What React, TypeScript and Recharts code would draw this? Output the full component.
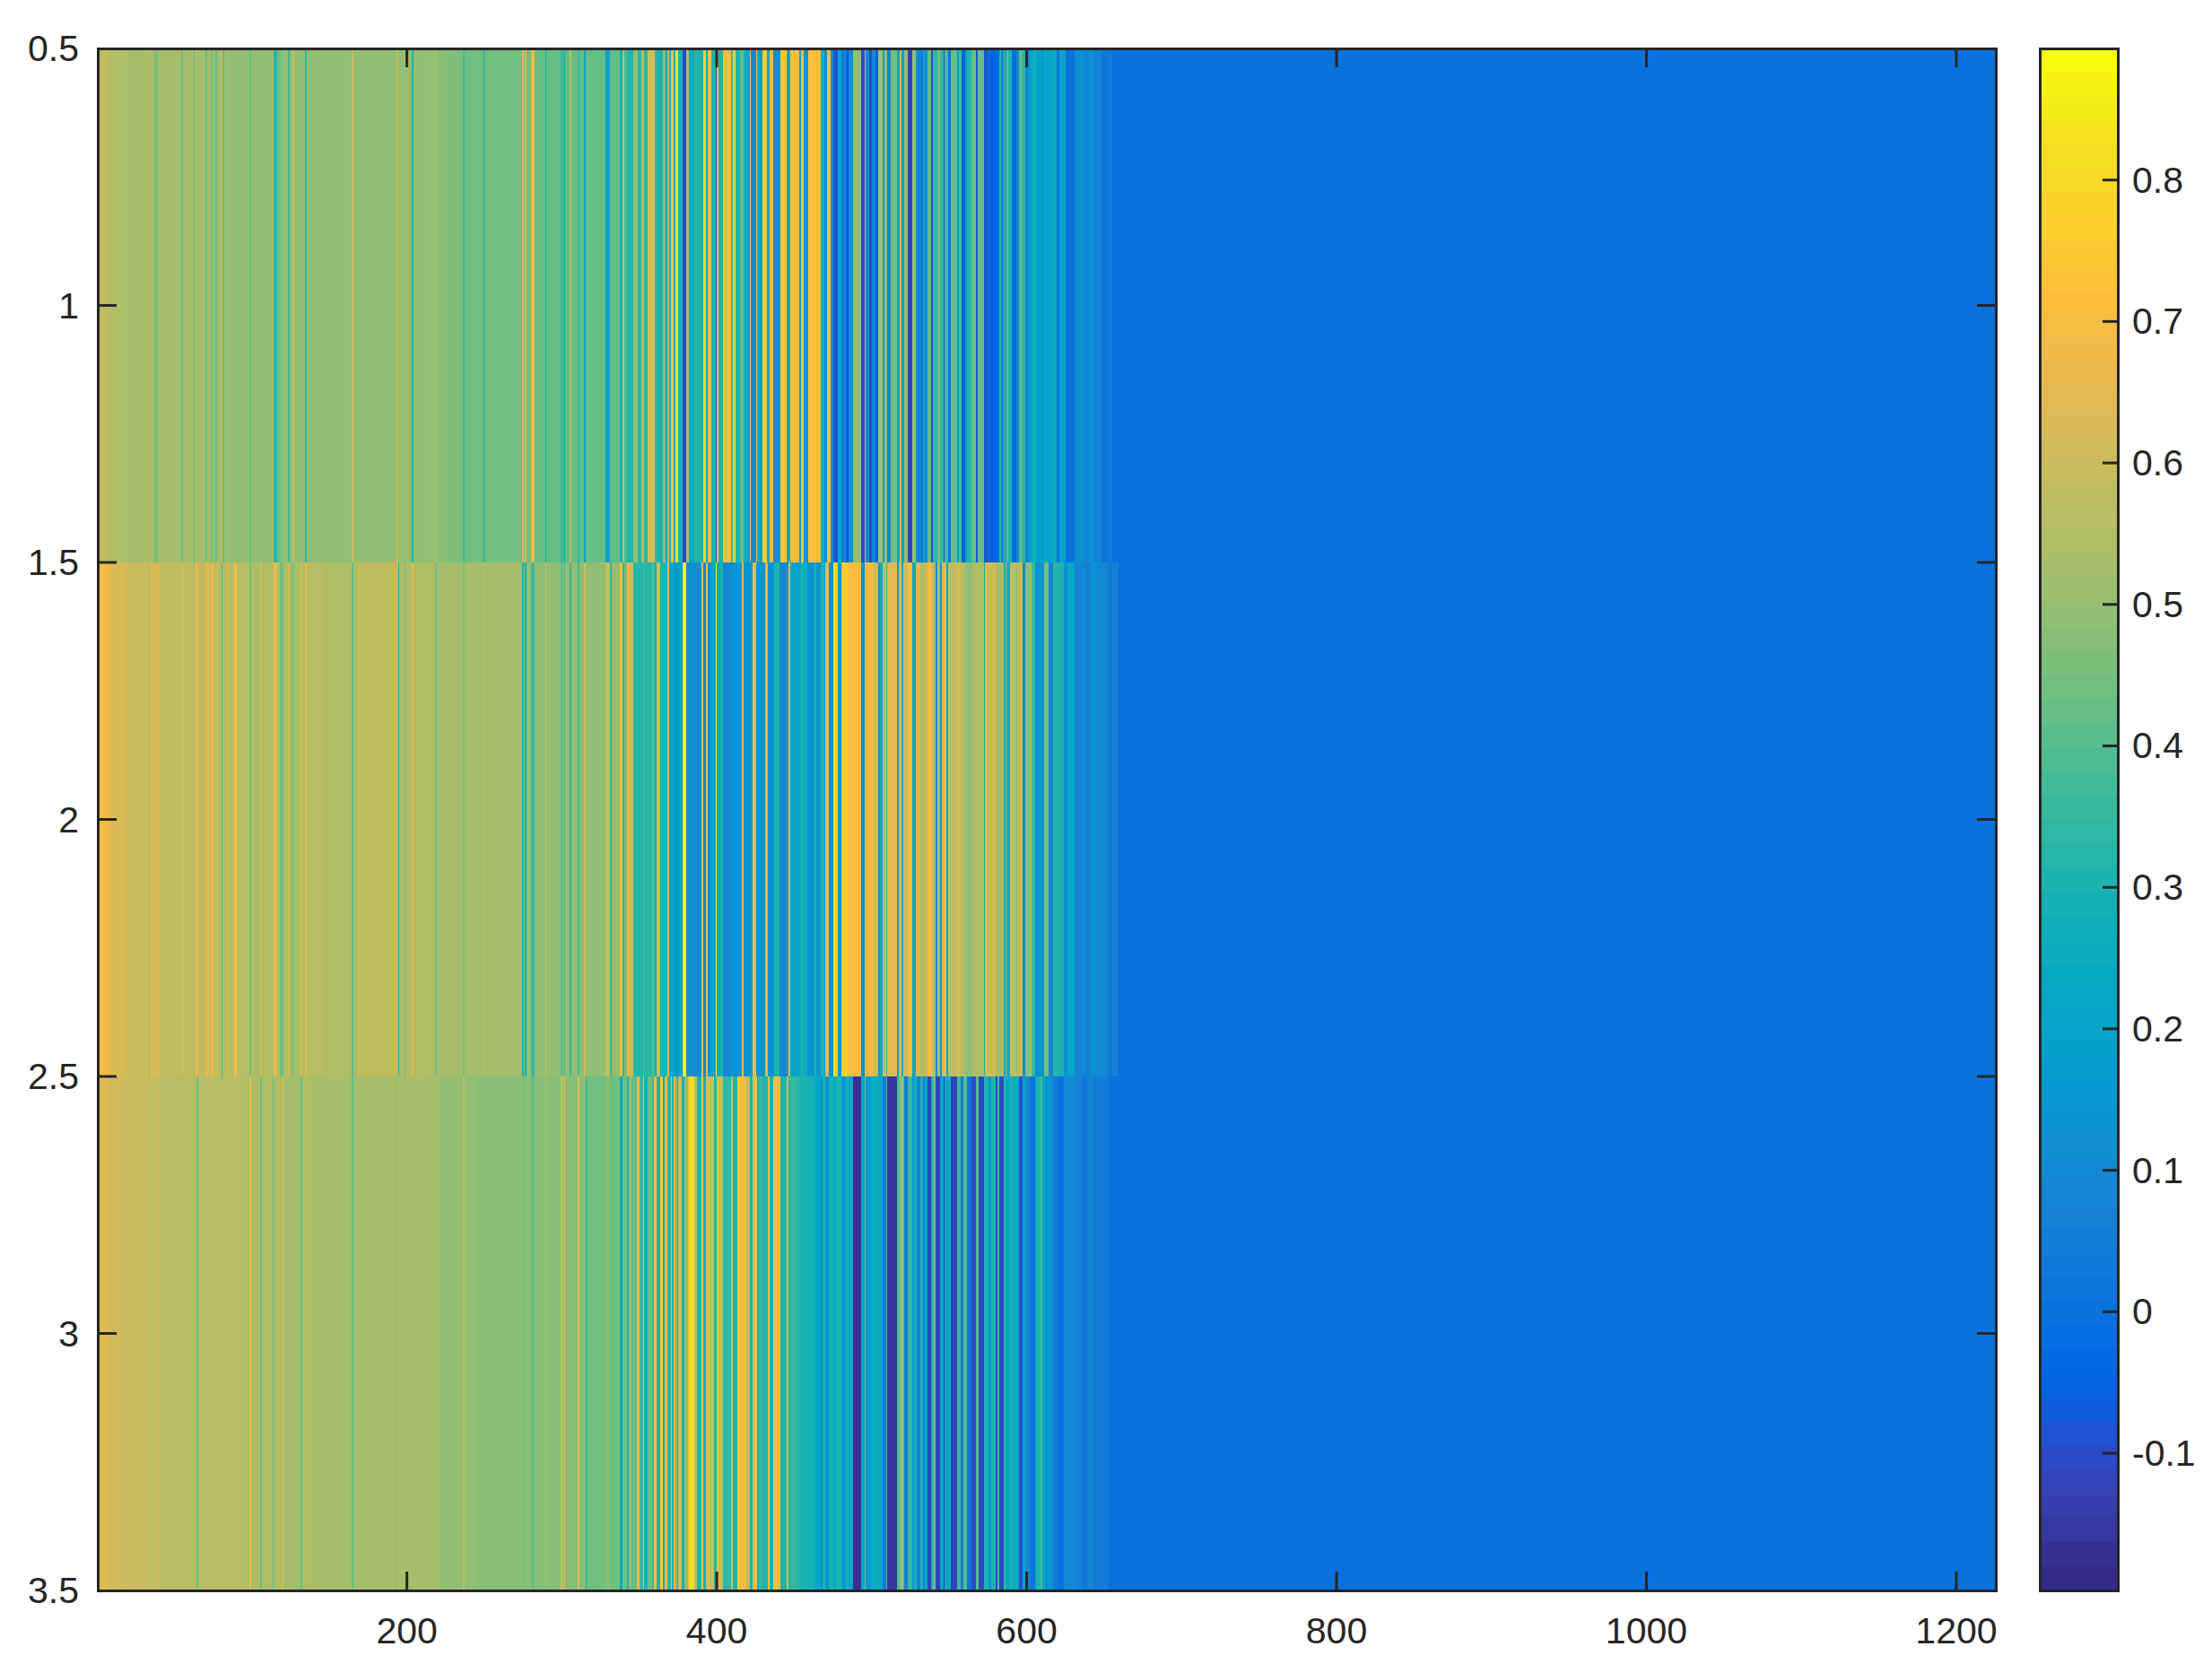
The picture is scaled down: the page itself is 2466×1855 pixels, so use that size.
import { Bar, Cell, ComposedChart, Line, ReferenceArea, XAxis, YAxis } from "recharts";

const PARULA = [
  [0.2081, 0.1663, 0.5292], [0.2116, 0.1898, 0.5777], [0.2123, 0.2138, 0.627], [0.2081, 0.2386, 0.6771],
  [0.1959, 0.2645, 0.7279], [0.1707, 0.2919, 0.7792], [0.1253, 0.3242, 0.8303], [0.0591, 0.3598, 0.8683],
  [0.0117, 0.3875, 0.882], [0.006, 0.4086, 0.8828], [0.0165, 0.4266, 0.8786], [0.0329, 0.443, 0.872],
  [0.0498, 0.4586, 0.8641], [0.0629, 0.4737, 0.8554], [0.0723, 0.4887, 0.8467], [0.0779, 0.504, 0.8384],
  [0.0793, 0.52, 0.8312], [0.0749, 0.5375, 0.8263], [0.0641, 0.557, 0.824], [0.0488, 0.5772, 0.8228],
  [0.0343, 0.5966, 0.8199], [0.0265, 0.6137, 0.8135], [0.0239, 0.6287, 0.8038], [0.0231, 0.6418, 0.7913],
  [0.0228, 0.6535, 0.7768], [0.0267, 0.6642, 0.7607], [0.0384, 0.6743, 0.7436], [0.059, 0.6838, 0.7254],
  [0.0843, 0.6928, 0.7062], [0.1133, 0.7015, 0.6859], [0.1453, 0.7098, 0.6646], [0.1801, 0.7177, 0.6424],
  [0.2178, 0.725, 0.6193], [0.2586, 0.7317, 0.5954], [0.3022, 0.7376, 0.5712], [0.3482, 0.7424, 0.5473],
  [0.3953, 0.7459, 0.5244], [0.442, 0.7481, 0.5033], [0.4871, 0.7491, 0.484], [0.53, 0.7491, 0.4661],
  [0.5709, 0.7485, 0.4494], [0.6099, 0.7473, 0.4337], [0.6473, 0.7456, 0.4188], [0.6834, 0.7435, 0.4044],
  [0.7184, 0.7411, 0.3905], [0.7525, 0.7384, 0.3768], [0.7858, 0.7356, 0.3633], [0.8185, 0.7327, 0.3498],
  [0.8507, 0.7299, 0.336], [0.8824, 0.7274, 0.3217], [0.9139, 0.7258, 0.3063], [0.945, 0.7261, 0.2886],
  [0.9739, 0.7314, 0.2666], [0.9938, 0.7455, 0.2403], [0.999, 0.7653, 0.2164], [0.9955, 0.7861, 0.1967],
  [0.988, 0.8066, 0.1794], [0.9789, 0.8271, 0.1633], [0.9697, 0.8481, 0.1475], [0.9626, 0.8705, 0.1309],
  [0.9589, 0.8949, 0.1132], [0.9598, 0.9218, 0.0948], [0.9661, 0.9514, 0.0755], [0.9763, 0.9831, 0.0538],
];

const C_MIN = -0.197;
const C_MAX = 0.893;
const N_COLS = 1225;

const X_TICKS = [200, 400, 600, 800, 1000, 1200];
const Y_TICKS = [0, 0.5, 1, 1.5, 2, 2.5, 3]; // row edges, shown as 0.5 .. 3.5
const C_TICKS = [-0.1, 0, 0.1, 0.2, 0.3, 0.4, 0.5, 0.6, 0.7, 0.8];

// each run is [last column, value]
const ROW1_RUNS = [
  [8,.57],[19,.54],[33,.53],[34,.6],[37,.52],[39,.46],[54,.52],[55,.44],[62,.52],[63,.4],[70,.52],[71,.42],[73,.52],[74,.4],[76,.5],[77,.42],[80,.52],[81,.66],[82,.4],[84,.5],[85,.58],[98,.5],[99,.42],[113,.5],[114,.58],[116,.32],[119,.44],[123,.49],[124,.36],[126,.49],[127,.6],[134,.49],[135,.34],[164,.5],[165,.62],[168,.5],
  [173,.49],[193,.49],[194,.6],[198,.49],[199,.55],[203,.49],[204,.3],[212,.5],[213,.52],[218,.49],[219,.55],[227,.48],[236,.46],[237,.38],[249,.45],[250,.26],[274,.44],[275,.65],[276,.45],[277,.62],[280,.44],[282,.68],[289,.42],[290,.25],[299,.42],[300,.36],[301,.42],[302,.33],[305,.42],[306,.58],[310,.42],[311,.36],[314,.42],[315,.2],[328,.42],[329,.2],[331,.18],[337,.42],[339,.28],[340,.6],[342,.38],
  [346,.32],[349,.5],[351,.34],[353,.56],[355,.34],[360,.62],[361,.36],[363,.3],[365,.28],[367,.5],[368,.22],[369,.58],[370,.3],[372,.72],[373,.28],[375,.84],[378,.3],[380,-.1],[382,.55],[385,.26],[389,.32],[391,.3],[393,.78],[394,.22],[396,.72],[399,.3],[400,-.1],[401,.72],[404,.3],[409,.72],[410,.35],[412,.76],[415,.3],[417,.42],[419,.28],[421,.2],[422,.7],[425,.1],[426,.72],[427,.25],[429,.18],[432,.76],[434,.22],[436,.7],[441,.12],[445,.74],[447,.22],[453,.72],[454,.2],[456,.72],[459,.14],[467,.72],[469,.28],[471,.08],[473,.7],[475,.12],[478,-.08],[480,.22],[482,.05],[483,.12],[485,-.05],[488,.12],[493,.5],[495,-.1],[496,.55],[498,.1],[500,-.1],[502,.1],[504,-.05],
  [507,.52],[508,.2],[510,.5],[512,.08],[516,.44],[518,.24],[519,.62],[521,.2],[523,.5],[526,-.12],[528,.5],[530,.14],[533,.05],[534,.2],[536,.1],[538,.42],[539,-.1],[542,.34],[544,.44],[546,.36],[547,-.1],[549,.38],[551,.02],[555,.42],[556,.2],[558,.38],[560,-.05],[561,.18],[564,.3],[567,.42],[568,-.08],[572,.42],[575,-.08],[576,.05],[580,-.05],[582,-.02],[583,.3],[585,.1],[586,.36],[587,.1],[588,.42],[590,.3],[593,-.02],[595,.1],[597,.4],[599,.32],[600,.08],[602,.12],[604,.2],[606,.28],[611,.18],[613,.26],[616,.2],[619,.25],[621,.02],[625,.2],[631,0],[634,.12],[637,.14],[640,.06],[643,.14],[646,.06],[648,.08],[651,.02],[655,.04],[1225,0],
];

const ROW2_RUNS = [
  [6,.69],[9,.66],[19,.63],[33,.6],[34,.5],[40,.63],[55,.58],[56,.65],[62,.58],[63,.5],[65,.64],[70,.58],[72,.66],[73,.58],[75,.66],[77,.58],[78,.66],[80,.56],[81,.38],[84,.56],[85,.64],[88,.56],[90,.7],[98,.56],[99,.44],[105,.55],[106,.62],[114,.55],[116,.66],[118,.55],[120,.44],[123,.55],[124,.64],[126,.5],[127,.44],[131,.55],[132,.62],[134,.55],[135,.66],[146,.56],[164,.55],[165,.4],[168,.55],
  [194,.57],[195,.32],[198,.54],[199,.42],[203,.54],[204,.66],[212,.55],[213,.6],[218,.55],[219,.44],[236,.53],[237,.46],[246,.53],[249,.52],[250,.58],[274,.52],[275,.3],[276,.46],[277,.3],[280,.5],[282,.36],[289,.5],[290,.62],[299,.5],[300,.4],[301,.5],[302,.4],[305,.5],[306,.36],[310,.5],[311,.38],[314,.5],[315,.62],[328,.5],[331,.6],[332,.36],[337,.5],[339,.72],[340,.34],[342,.46],
  [343,.7],[346,.62],[352,.33],[353,.4],[358,.33],[359,.4],[361,.3],[363,.62],[368,.3],[369,.66],[370,.18],[372,.25],[375,.16],[377,.2],[378,.12],[380,.88],[390,.12],[391,.66],[393,.1],[394,.68],[396,.14],[399,.24],[400,.88],[402,.2],[404,.3],[409,.1],[416,.14],[417,.68],[422,.14],[423,.2],[425,.68],[431,.14],[433,.64],[437,.14],[440,.3],[445,.1],[446,.14],[447,.66],[453,.2],[454,.25],[456,.3],[458,.26],[463,.14],[464,.3],[467,.14],[469,.3],[470,.18],[472,.68],[475,.14],[478,.8],[480,.16],[481,.72],[485,.76],[493,.7],[495,.14],[498,.68],[501,.7],[504,.6],
  [505,.14],[507,.25],[509,.6],[510,.36],[516,.64],[517,.18],[519,.62],[520,.22],[523,.62],[526,.72],[528,.22],[531,.62],[534,.55],[536,.6],[538,.7],[539,.68],[541,.52],[542,.12],[544,.55],[545,.14],[546,.62],[548,.66],[549,.25],[555,.58],[558,.62],[560,.55],[565,.5],[572,.55],[573,.28],[580,.62],[585,.52],[586,.22],[587,.56],[589,.22],[590,.6],[593,.58],[594,.52],[597,.6],[599,.1],[602,.48],[603,.52],[605,.36],[608,.12],[609,.2],[611,.14],[614,.45],[617,.08],[620,.32],[624,.3],[626,.12],[631,.22],[636,.08],[637,.1],[641,.06],[645,.14],[651,.1],[653,.08],[655,.03],[659,.07],[1225,0],
];

const ROW3_RUNS = [
  [7,.65],[16,.62],[32,.59],[38,.57],[40,.59],[64,.56],[65,.42],[95,.56],[98,.54],[99,.7],[105,.55],[106,.42],[113,.54],[114,.4],[119,.54],[120,.64],[131,.53],[132,.42],[139,.55],[164,.53],[165,.42],[168,.53],
  [193,.53],[194,.5],[195,.6],[220,.52],[221,.57],[236,.5],[237,.6],[245,.5],[249,.48],[274,.48],[276,.46],[280,.48],[282,.42],[289,.48],[290,.54],[299,.47],[300,.62],[301,.47],[302,.62],[310,.47],[311,.66],[315,.47],[316,.28],[328,.44],[331,.48],[337,.45],[339,.24],[342,.45],
  [343,.3],[345,.5],[348,.42],[350,.66],[352,.35],[353,.66],[355,.3],[358,.45],[359,.36],[361,.72],[363,.28],[365,.74],[366,.26],[368,.7],[370,.32],[371,.7],[372,.3],[373,.7],[374,.45],[375,.3],[377,.62],[379,.3],[381,.5],[382,.66],[385,.82],[387,.55],[390,.3],[391,.75],[393,.28],[394,.6],[395,.66],[398,.6],[400,.32],[401,.7],[404,.6],[409,.34],[410,.6],[413,.3],[415,.76],[419,.7],[421,.58],[423,.3],[426,.72],[427,.28],[429,.36],[433,.3],[434,.72],[436,.28],[441,.72],[445,.3],[446,.6],[447,.3],[450,.35],[453,.34],[458,.3],[463,.28],[467,.22],[468,.1],[470,.3],[472,.14],[475,.28],[477,.24],[480,.3],[483,.16],[485,.28],[488,.2],[493,-.17],[495,.22],[496,.45],[499,.15],[500,.2],[504,.26],
  [507,.24],[509,.04],[510,.4],[516,-.15],[518,.38],[520,.5],[521,.4],[523,.06],[526,.36],[527,.14],[529,.28],[531,.06],[533,.3],[534,.05],[536,.2],[538,-.12],[539,.28],[541,.42],[544,-.12],[546,.2],[547,-.12],[551,.24],[555,-.12],[557,.36],[559,.05],[561,.4],[564,.02],[567,-.1],[569,.4],[572,-.1],[575,.3],[577,.16],[580,.3],[581,-.1],[582,.38],[585,-.1],[586,.34],[589,.24],[591,.3],[595,.25],[597,-.08],[599,.22],[602,.1],[605,.02],[606,.2],[609,.3],[610,.38],[612,.22],[613,.02],[617,.14],[620,.05],[624,0],[631,.1],[636,.06],[639,.02],[643,.08],[645,.03],[653,.05],[1225,0],
];

const INK = "#262626";
const FONT = "'Liberation Sans', Helvetica, Arial, sans-serif";
const FONT_SIZE = 41;

const toHex = (c: number[]) =>
  "#" + c.map((v) => Math.round(v * 255).toString(16).padStart(2, "0")).join("");

const colorOf = (v: number) => {
  const idx = Math.floor(((v - C_MIN) / (C_MAX - C_MIN)) * 64);
  return toHex(PARULA[Math.max(0, Math.min(63, idx))]);
};

// expand runs to one colour per column
const expand = (runs: number[][]) => {
  const out: string[] = [];
  let col = 1;
  for (const [end, val] of runs) {
    for (; col <= end; col++) out.push(colorOf(val));
  }
  return out;
};

const FILLS = [expand(ROW1_RUNS), expand(ROW2_RUNS), expand(ROW3_RUNS)];

const table = Array.from({ length: N_COLS }, (_, i) => ({ col: i + 1, row1: 1, row2: 1, row3: 1 }));

const PLOT = { left: 109, right: 2225, top: 54, bottom: 1773 };
const BAR = { left: 2274, right: 2361 };

function XTick({ x, payload }: any) {
  return (
    <g>
      <line x1={x} x2={x} y1={PLOT.bottom} y2={PLOT.bottom - 21} stroke={INK} strokeWidth={3} />
      <line x1={x} x2={x} y1={PLOT.top} y2={PLOT.top + 21} stroke={INK} strokeWidth={3} />
      <text x={x} y={1832} textAnchor="middle" fontFamily={FONT} fontSize={FONT_SIZE} fill={INK}>
        {payload.value}
      </text>
    </g>
  );
}

function YTick({ y, payload }: any) {
  const inner = payload.value > 0 && payload.value < 3;
  return (
    <g>
      {inner && <line x1={PLOT.left} x2={PLOT.left + 21} y1={y} y2={y} stroke={INK} strokeWidth={3} />}
      {inner && <line x1={PLOT.right} x2={PLOT.right - 21} y1={y} y2={y} stroke={INK} strokeWidth={3} />}
      <text x={88} y={y + 14} textAnchor="end" fontFamily={FONT} fontSize={FONT_SIZE} fill={INK}>
        {payload.value + 0.5}
      </text>
    </g>
  );
}

function CTick({ y, payload }: any) {
  const w = BAR.right - BAR.left;
  return (
    <g>
      <line x1={w} x2={w - 17} y1={y} y2={y} stroke={INK} strokeWidth={3} />
      <text x={w + 16} y={y + 14} fontFamily={FONT} fontSize={FONT_SIZE} fill={INK}>
        {payload.value}
      </text>
    </g>
  );
}

function Heatmap() {
  return (
    <ComposedChart
      width={2466}
      height={1855}
      data={table}
      barCategoryGap={0}
      barGap={0}
      margin={{ top: PLOT.top, left: 0, right: 2466 - PLOT.right, bottom: 0 }}
      style={{ position: "absolute", left: 0, top: 0 }}
    >
      {["row1", "row2", "row3"].map((key, r) => (
        <Bar key={key} dataKey={key} stackId="rows" barSize={3} isAnimationActive={false} shapeRendering="crispEdges">
          {table.map((d, i) => (
            // recharts keeps bars slightly narrower than the band, the stroke closes the seams
            <Cell key={d.col} fill={FILLS[r][i]} stroke={FILLS[r][i]} strokeWidth={1} />
          ))}
        </Bar>
      ))}
      <XAxis
        dataKey="col"
        type="category"
        ticks={X_TICKS}
        interval={0}
        height={1855 - PLOT.bottom}
        axisLine={false}
        tickLine={false}
        tick={<XTick />}
      />
      <YAxis
        type="number"
        domain={[0, 3]}
        reversed
        ticks={Y_TICKS}
        interval={0}
        width={PLOT.left}
        axisLine={false}
        tickLine={false}
        tick={<YTick />}
      />
    </ComposedChart>
  );
}

function Colorbar() {
  const step = (C_MAX - C_MIN) / 64;
  return (
    <ComposedChart
      width={2466 - BAR.left}
      height={1855}
      data={[{ x: 0, y: C_MIN }, { x: 1, y: C_MAX }]}
      margin={{ top: PLOT.top, left: 0, right: 0, bottom: 1855 - PLOT.bottom }}
      style={{ position: "absolute", left: BAR.left, top: 0 }}
    >
      <XAxis dataKey="x" type="number" domain={[0, 1]} hide />
      {PARULA.map((c, i) => (
        <ReferenceArea
          key={i}
          x1={0}
          x2={1}
          y1={C_MIN + i * step}
          y2={C_MIN + (i + 1) * step}
          fill={toHex(c)}
          fillOpacity={1}
          stroke="none"
          shapeRendering="crispEdges"
          ifOverflow="visible"
        />
      ))}
      <Line dataKey="y" stroke="none" dot={false} isAnimationActive={false} />
      <YAxis
        orientation="right"
        type="number"
        domain={[C_MIN, C_MAX]}
        ticks={C_TICKS}
        interval={0}
        width={2466 - BAR.right}
        axisLine={false}
        tickLine={false}
        tick={<CTick />}
      />
    </ComposedChart>
  );
}

const frame = (left: number, right: number) => ({
  position: "absolute" as const,
  left: left - 1.5,
  top: PLOT.top - 1.5,
  width: right - left + 3,
  height: PLOT.bottom - PLOT.top + 3,
  border: `3px solid ${INK}`,
  boxSizing: "border-box" as const,
  pointerEvents: "none" as const,
});

export default function App() {
  return (
    <div style={{ position: "absolute", left: 0, top: 0, width: 2466, height: 1855, background: "#fff" }}>
      <Heatmap />
      <Colorbar />
      <div style={frame(PLOT.left, PLOT.right)} />
      <div style={frame(BAR.left, BAR.right)} />
    </div>
  );
}
